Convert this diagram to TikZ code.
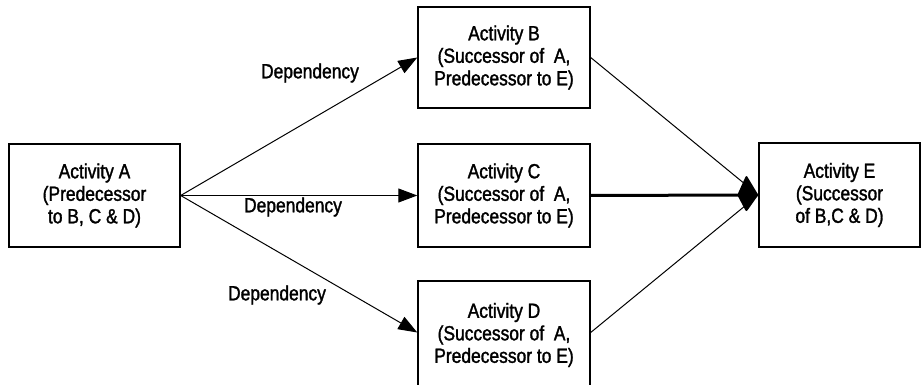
\documentclass[tikz,border=0pt]{standalone}
\usepackage{fontspec}
\setmainfont{Liberation Sans}[FakeStretch=0.85,FakeBold=1.5]
\usetikzlibrary{arrows.meta}
\begin{document}
\begin{tikzpicture}[x=1pt,y=-1pt,
  actbox/.style={draw=black, line width=1.4pt, rectangle, align=center,
    font=\fontsize{20.5}{22.5}\selectfont, inner sep=0pt},
  dep/.style={line width=1pt, -{Triangle[length=19pt,width=14pt]}},
  link/.style={line width=1pt},
  deplabel/.style={font=\fontsize{20.5}{22}\selectfont}]
\useasboundingbox (0,0) rectangle (922,385);
% activities
\node[actbox, minimum width=171pt, minimum height=103pt] (A) at (94.5,195.5)
  {Activity A\\(Predecessor\\to B, C \& D)};
\node[actbox, minimum width=172pt, minimum height=101pt] (B) at (504,57.5)
  {Activity B\\(Successor of\ \ A,\\Predecessor to E)};
\node[actbox, minimum width=172pt, minimum height=103pt] (C) at (504,195.5)
  {Activity C\\(Successor of\ \ A,\\Predecessor to E)};
\node[actbox, minimum width=172pt, minimum height=108pt] (D) at (504,335)
  {Activity D\\(Successor of\ \ A,\\Predecessor to E)};
\node[actbox, minimum width=161pt, minimum height=104pt] (E) at (839.5,195)
  {Activity E\\(Successor\\of B,C \& D)};
% dependencies out of A
\draw[dep] (A.east) -- (B.west);
\draw[dep] (A.east) -- (C.west);
\draw[dep] (A.east) -- ([yshift=2.5pt]D.west);
% dependencies into E
\draw[link] (B.east) -- (E.west);
\draw[link] ([yshift=2.5pt]D.east) -- (E.west);
\draw[line width=3pt] (C.east) -- ([xshift=-12pt]E.west);
% the merged arrow tip at E
\fill[rounded corners=2pt] (E.west) -- ([shift={(-12,-20)}]E.west)
  -- ([shift={(-21,0)}]E.west) -- ([shift={(-12,17)}]E.west) -- cycle;
% labels
\node[deplabel] (l1) at (310,73) {Dependency};
\node[deplabel] (l2) at (293,207) {Dependency};
\node[deplabel] (l3) at (277,295) {Dependency};
\end{tikzpicture}
\end{document}
